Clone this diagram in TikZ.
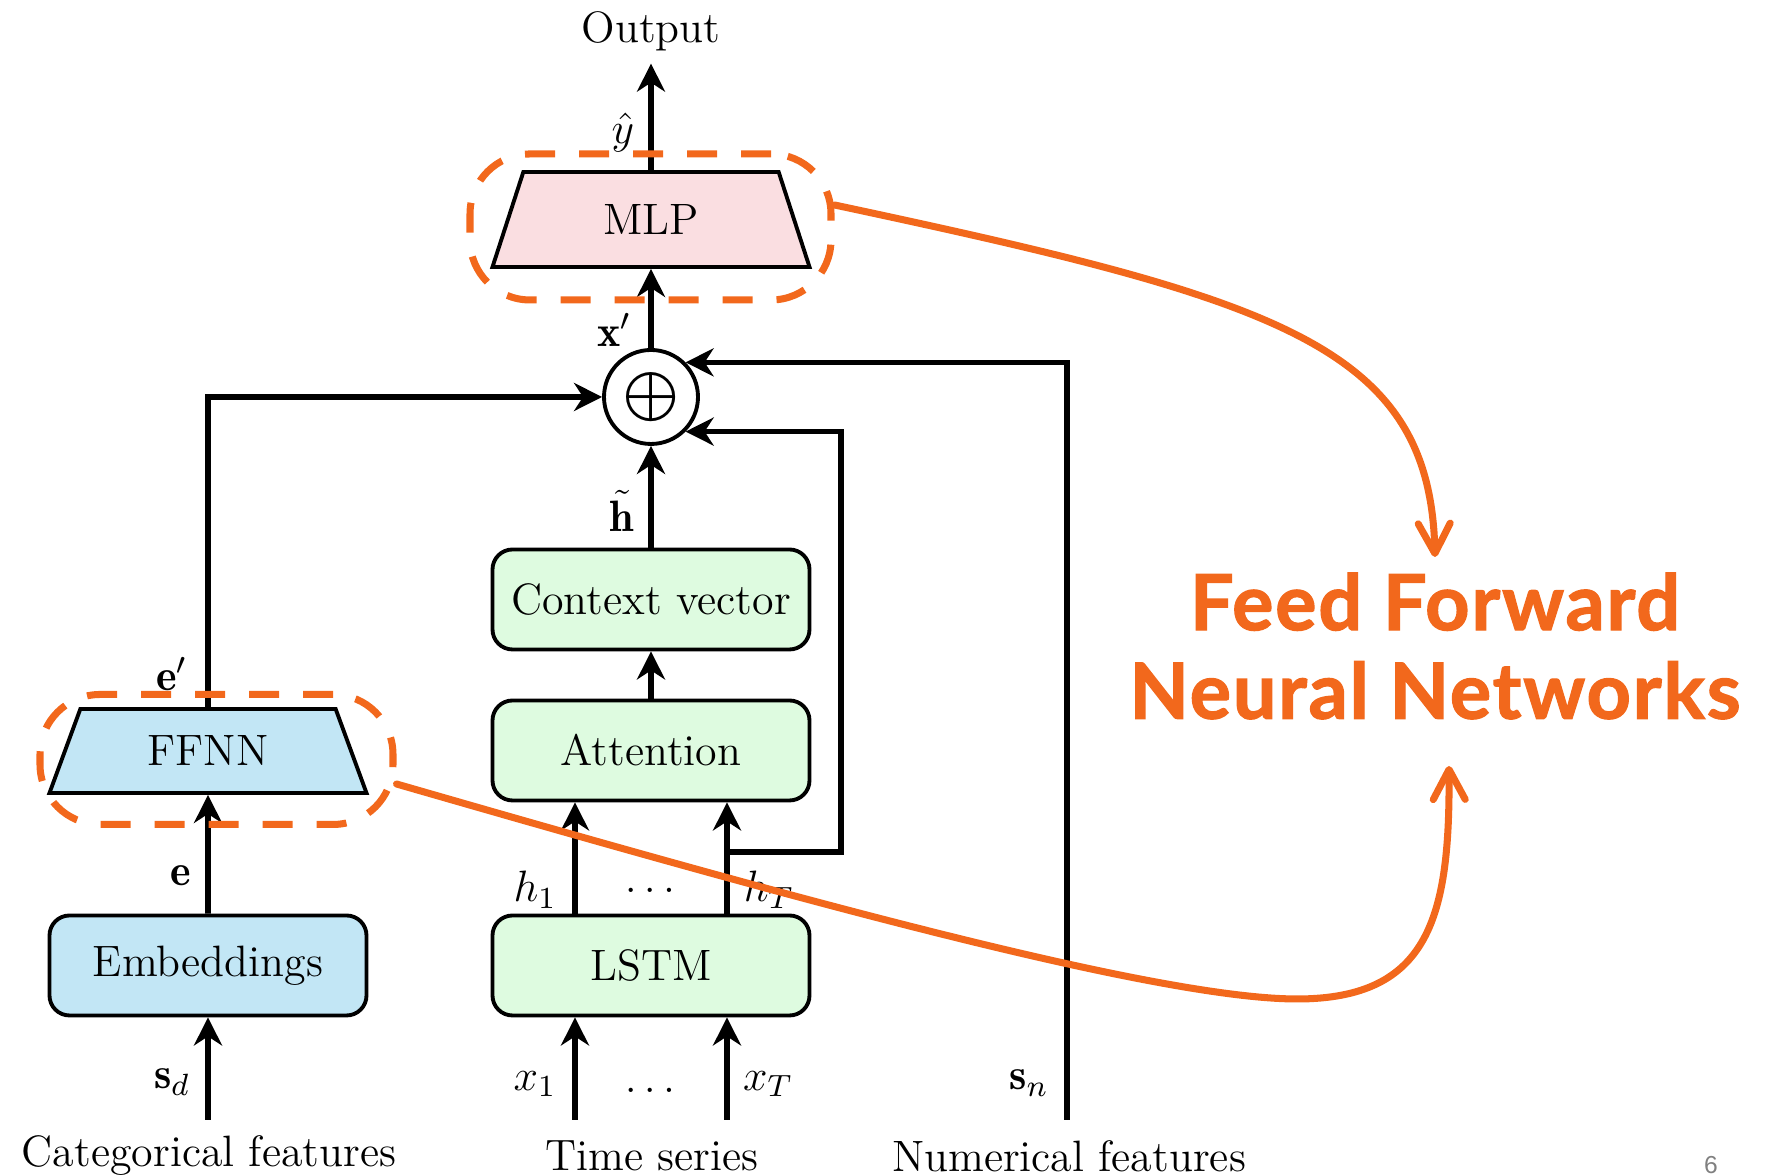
\RequirePackage{fix-cm}
\documentclass[tikz,border=0pt]{standalone}
\usepackage{fontspec}
\usetikzlibrary{shapes.geometric,arrows.meta}

\newfontfamily\orangefont{Lato}[LetterSpace=2.4,BoldFeatures={FakeBold=1.6}]
\newfontfamily\slidefont{Liberation Sans}

\definecolor{ffnnorange}{RGB}{242,104,28}
\definecolor{mlppink}{RGB}{250,222,225}
\definecolor{embblue}{RGB}{194,230,245}
\definecolor{lstmgreen}{RGB}{222,251,224}
\definecolor{pagegray}{RGB}{128,128,128}

\begin{document}
\begin{tikzpicture}[
    font=\fontsize{12.5}{15}\selectfont,
    blockbox/.style={draw, line width=1.1pt, rounded corners=2mm, minimum width=3.17cm, minimum height=1cm},
    trapbox/.style={draw, line width=1.1pt, trapezium, trapezium left angle=60, trapezium right angle=60, trapezium stretches body, minimum width=3.17cm},
    arr/.style={line width=1.6pt, -{Stealth[length=2.8mm,width=2.8mm,inset=0.9mm]}},
    ffdash/.style={draw=ffnnorange, line width=2pt, rounded corners=6mm, dash pattern=on 3mm off 2.4mm},
    ffarrow/.style={draw=ffnnorange, line width=2pt, line cap=round, -{Straight Barb[round,length=3mm,width=3.2mm]}}
]

    \useasboundingbox (0,0) rectangle (17.69,11.76);

    % Time series branch
    \node[blockbox, fill=lstmgreen] (lstm) at (6.51,2.105) {LSTM};
    \node[blockbox, fill=lstmgreen] (att) at (6.51,4.255) {Attention};
    \node[blockbox, fill=lstmgreen] (ctx) at (6.51,5.765) {Context vector};

    % Categorical branch
    \node[blockbox, fill=embblue] (emb) at (2.08,2.105) {Embeddings};
    \node[trapbox, fill=embblue, minimum height=0.84cm] (ffnn) at (2.08,4.25) {FFNN};

    % Concatenation and output
    \node[draw, circle, line width=1.1pt, minimum size=0.94cm, inner sep=0pt] (add) at (6.51,7.79) {$\displaystyle\bigoplus$};
    \node[trapbox, fill=mlppink, minimum height=0.95cm] (mlp) at (6.51,9.565) {MLP};
    \node (output) at (6.51,11.445) {Output};

    % Inputs
    \coordinate (sd) at (2.08,0.56);
    \coordinate (x1) at (5.75,0.56);
    \coordinate (xT) at (7.27,0.56);
    \coordinate (sn) at (10.67,0.56);
    \coordinate (hbr) at (7.27,3.24);

    \draw[arr] (sd) -- (emb.south);
    \draw[arr] (x1) -- (x1 |- lstm.south);
    \draw[arr] (xT) -- (xT |- lstm.south);

    % Connections
    \draw[arr] ([xshift=-7.6mm]lstm.north) -- ([xshift=-7.6mm]att.south);
    \draw[arr] ([xshift=7.6mm]lstm.north) -- ([xshift=7.6mm]att.south);
    \draw[arr] (att.north) -- (ctx.south);
    \draw[arr] (ctx.north) -- (add.south);
    \draw[arr] (emb.north) -- (ffnn.south);
    \draw[arr] (ffnn.north) |- (add.west);
    \draw[arr] (sn) |- (add.45);
    \draw[arr] (hbr) -- ++(1.14,0) |- (add.-45);
    \draw[arr] (add.north) -- (mlp.south);
    \draw[arr] (mlp.north) -- (output.south);

    % Labels
    \node (lyhat) at (6.23,10.43) {$\hat{y}$};
    \node (lxp) at (6.14,8.46) {$\mathbf{x}'$};
    \node (lht) at (6.22,6.65) {$\tilde{\mathbf{h}}$};
    \node (lep) at (1.72,5.02) {$\mathbf{e}'$};
    \node (le) at (1.81,3.00) {$\mathbf{e}$};
    \node (lsd) at (1.72,0.94) {$\mathbf{s}_d$};
    \node (lh1) at (5.35,2.86) {$h_1$};
    \node (lhdots) at (6.50,2.86) {$\dots$};
    \node (lhT) at (7.69,2.86) {$h_T$};
    \node (lx1) at (5.35,0.92) {$x_1$};
    \node (lxdots) at (6.50,0.86) {$\dots$};
    \node (lxT) at (7.68,0.92) {$x_T$};
    \node (lsn) at (10.29,0.93) {$\mathbf{s}_n$};

    \node (tcat) at (2.09,0.20) {Categorical features};
    \node (tts) at (6.52,0.20) {Time series};
    \node (tnum) at (10.69,0.20) {Numerical features};

    % Highlight of the feed forward parts
    \node[ffdash, minimum width=3.61cm, minimum height=1.46cm] (mlpdash) at (6.505,9.49) {};
    \node[ffdash, minimum width=3.53cm, minimum height=1.30cm] (ffnndash) at (2.165,4.165) {};

    \node[text=ffnnorange, font=\orangefont\bfseries\fontsize{22}{25.2}\selectfont, align=center] (fftext) at (14.35,5.30) {Feed Forward\\Neural Networks};

    \coordinate (tipmlp) at (14.35,6.19);
    \coordinate (tipffnn) at (14.49,4.10);
    \draw[ffarrow] ([yshift=2.2mm]mlpdash.east) .. controls (12.8,8.76) and (14.3,8.3) .. (tipmlp);
    \draw[ffarrow] ([yshift=-2.45mm]ffnndash.east) .. controls (7.5,2.9) and (11.5,1.77) .. (12.97,1.77)
        .. controls (14.3,1.77) and (14.5,2.6) .. (tipffnn);

    % Slide number
    \node[font=\slidefont\fontsize{7}{8}\selectfont, text=pagegray] (pagenum) at (17.11,0.11) {6};

\end{tikzpicture}
\end{document}
